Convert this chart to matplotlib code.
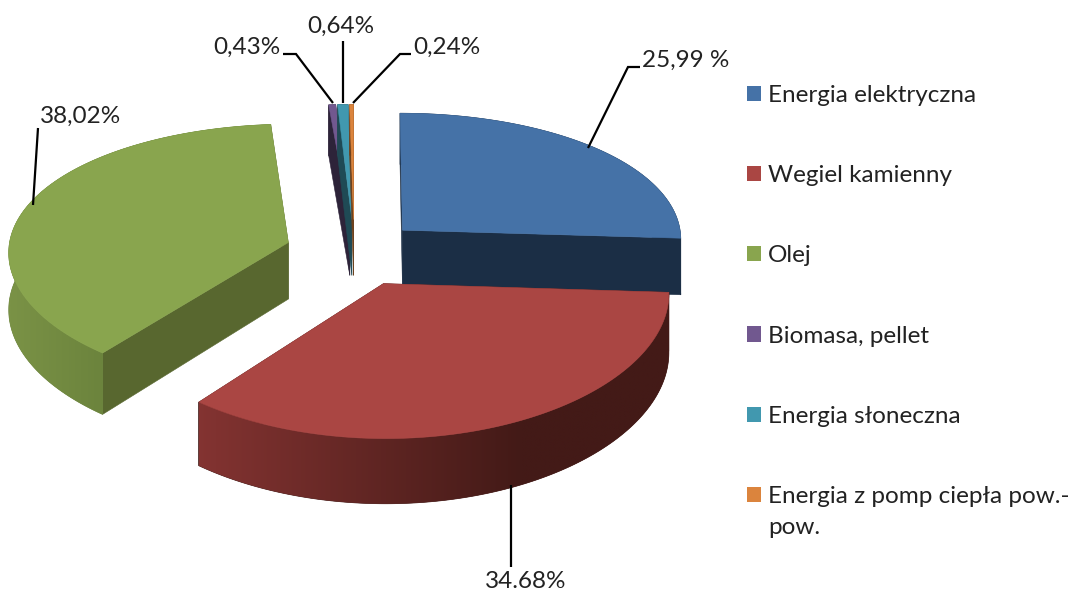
import numpy as np
import matplotlib
matplotlib.use("Agg")
import matplotlib.pyplot as plt
from matplotlib.patches import Patch, Polygon
from matplotlib.colors import to_rgb

categories = ["Energia elektryczna", "Wegiel kamienny", "Olej", "Biomasa, pellet",
              "Energia słoneczna", "Energia z pomp ciepła pow.-\npow."]
shares = [25.99, 34.68, 38.02, 0.43, 0.64, 0.24]
value_labels = ["25,99 %", "34.68%", "38,02%", "0,43%", "0,64%", "0,24%"]

top_colors = ["#4572A7", "#AA4643", "#89A54E", "#71588F", "#4198AF", "#DB843D"]
cut_colors = ["#1B2E45", "#441B18", "#58672F", "#2D2339", "#1F4A55", "#6E421E"]
side_from = ["#1B2E45", "#853432", "#7A9246", "#2D2339", "#1F4A55", "#6E421E"]
side_to = ["#1B2E45", "#431A17", "#6C843D", "#2D2339", "#1F4A55", "#6E421E"]
explode = [0.20, 0.28, 0.25, 0.22, 0.22, 0.22]
nudge_x = [1, -10, -6, -7, -7, -7]
nudge_y = [0, 1, 4, 0, 0, 0]
shade_span = [(0, 1), (190, 520), (10, 100), (0, 1), (0, 1), (0, 1)]

X0, Y0, A, B, KX, KY, DEPTH = 361.0, 248.0, 280.0, 132.0, 0.064, 0.10, 57.0


def project(u, v, drop=0.0):
    """Perspective view of the pie plane; drop = extrusion as a 0..1 fraction."""
    u, v = np.asarray(u, float), np.asarray(v, float)
    x = X0 + A * u / (1 + KX * v)
    y = Y0 - B * v / (1 + KY * v) + drop * DEPTH / (1 + KY * v)
    return np.column_stack([x, y])


fig = plt.figure(figsize=(10.73, 5.92), dpi=100)
ax = fig.add_axes([0, 0, 1, 1])
ax.axis("off")

fractions = np.array(shares) / np.sum(shares) * 2 * np.pi
ends = np.cumsum(fractions)
starts = ends - fractions
z = 1
# red is nearest to the viewer, so it is painted last
for i in [0, 3, 4, 5, 2, 1]:
    shift = np.array([nudge_x[i], nudge_y[i]])
    mid = (starts[i] + ends[i]) / 2
    ox, oy = explode[i] * np.sin(mid), explode[i] * np.cos(mid)
    th = np.linspace(starts[i], ends[i], max(4, int(np.degrees(fractions[i]) * 2)))
    us, vs = ox + np.sin(th), oy + np.cos(th)
    # cut faces
    for t in (starts[i], ends[i]):
        eu, ev = np.array([ox, ox + np.sin(t)]), np.array([oy, oy + np.cos(t)])
        face = np.vstack([project(eu, ev), project(eu[::-1], ev[::-1], 1)]) + shift
        ax.add_patch(Polygon(face, closed=True, fc=cut_colors[i], ec=cut_colors[i], lw=0.4, zorder=z))
    # outer rim: a horizontal shade clipped to the rim outline
    upper, lower = project(us, vs) + shift, project(us, vs, 1) + shift
    rim = Polygon(np.vstack([upper, lower[::-1]]), closed=True, fc=side_to[i], ec=side_to[i],
                  lw=0.5, zorder=z)
    ax.add_patch(rim)
    x_lo, x_hi = rim.get_path().vertices[:, 0].min(), rim.get_path().vertices[:, 0].max()
    if side_from[i] != side_to[i]:
        xs = np.linspace(x_lo, x_hi, 256)
        w = np.clip((xs - shade_span[i][0]) / (shade_span[i][1] - shade_span[i][0]), 0, 1)
        c0, c1 = np.array(to_rgb(side_from[i])), np.array(to_rgb(side_to[i]))
        shade = (c0[None, :] + (c1 - c0)[None, :] * w[:, None])[None, :, :]
        y_lo, y_hi = rim.get_path().vertices[:, 1].min(), rim.get_path().vertices[:, 1].max()
        im = ax.imshow(shade, extent=(x_lo, x_hi, y_hi, y_lo), aspect="auto", zorder=z,
                       interpolation="bilinear")
        im.set_clip_path(rim)
    # top surface
    surface = np.vstack([project([ox], [oy]) + shift, upper])
    ax.add_patch(Polygon(surface, closed=True, fc=top_colors[i], ec=top_colors[i], lw=0.4, zorder=z))
    z += 1

ax.set_xlim(0, 1073)
ax.set_ylim(592, 0)

FONT = "Lato"
leaders = [
    ([640, 628, 588], [67, 67, 148]),
    ([511, 511], [485, 567]),
    ([38, 33], [128, 205]),
    ([283, 296, 333], [54, 54, 103]),
    ([343, 343], [41, 103]),
    ([411, 400, 353], [54, 54, 103]),
]
label_pos = [(686, 60), (526, 581), (81, 116), (247, 47), (341, 26), (447, 47)]
for (lx, ly), txt, (px, py) in zip(leaders, value_labels, label_pos):
    ax.plot(lx, ly, color="black", lw=1.6, solid_capstyle="butt", solid_joinstyle="miter", zorder=20)
    ax.text(px, py, txt, ha="center", va="center", fontsize=17.5, family=FONT, color="#222222", zorder=21)

handles = [Patch(facecolor=c, edgecolor="none") for c in top_colors]
leg = ax.legend(handles, categories, loc="upper left", bbox_to_anchor=(747, 85),
                bbox_transform=ax.transData, frameon=False, borderpad=0, borderaxespad=0,
                handlelength=0.58, handleheight=0.58, handletextpad=0.29,
                labelspacing=2.435, prop={"family": FONT, "size": 17.5}, labelcolor="#222222")
leg.get_texts()[-1].set_linespacing(1.6)
last_handle = leg.get_patches()[-1]
last_handle.set_y(last_handle.get_y() + 12.6)
fig.savefig("out.png", dpi=100, facecolor="white")
